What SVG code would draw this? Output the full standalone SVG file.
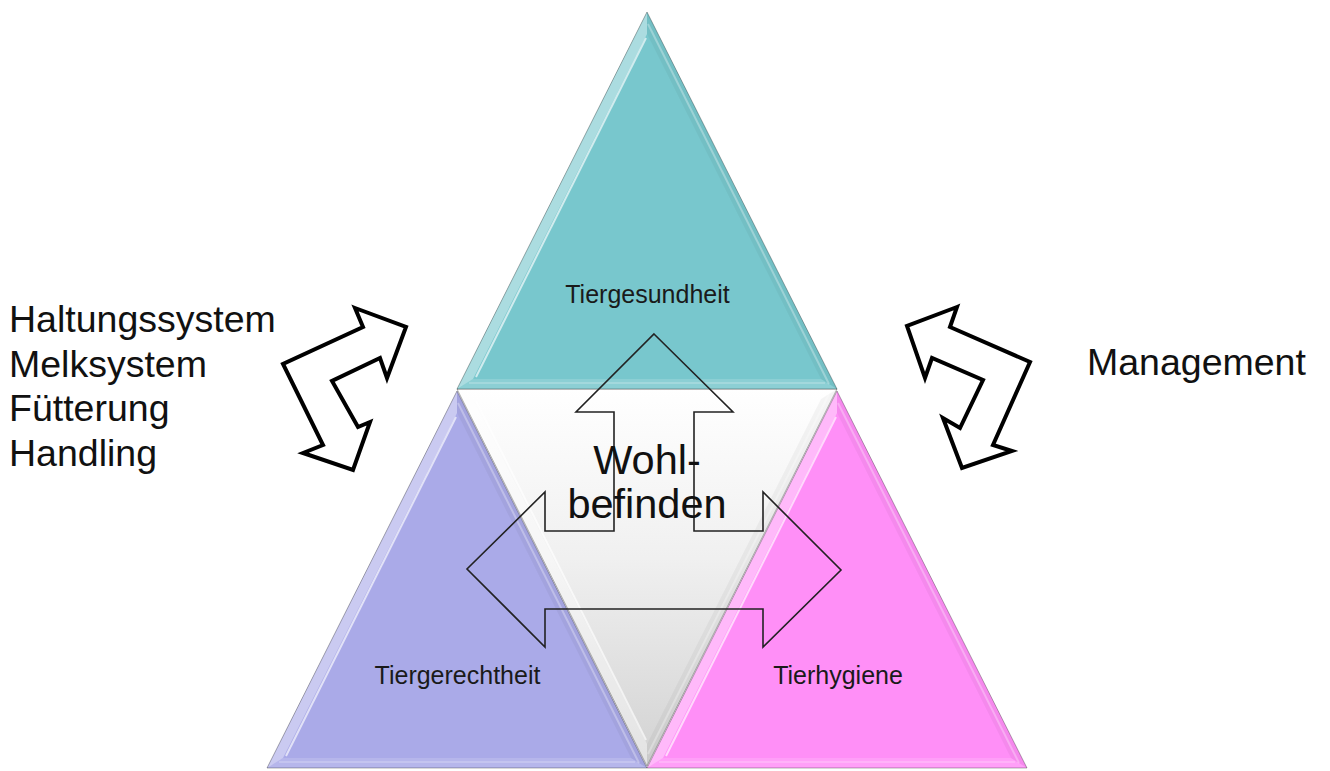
<svg xmlns="http://www.w3.org/2000/svg" xmlns:xlink="http://www.w3.org/1999/xlink" width="1330" height="771" viewBox="0 0 1330 771">
<style>
.big{font-family:"Liberation Sans",Arial,sans-serif;font-size:37.5px;fill:#111}
.lbl{font-family:"Liberation Sans",Arial,sans-serif;font-size:25px;text-anchor:middle;fill:#1a1a1a}
.center{font-family:"Liberation Sans",Arial,sans-serif;font-size:41.5px;text-anchor:middle;fill:#111}
.curved{fill:#fff;stroke:#000;stroke-width:4;stroke-linejoin:miter}
.tri3{fill:none;stroke:#222;stroke-width:1.6;stroke-linejoin:miter}
.edge{fill:none;stroke:#000;stroke-opacity:0.3;stroke-width:1}
</style>
<defs>
<polygon id="tri" points="0,0 -190,377 190,377"/>
<g id="bevel">
<polygon points="0,0 -190,377 -174,367 0,22" fill="#fff" fill-opacity="0.38"/>
<polygon points="0,0 190,377 174,367 0,22" fill="#000" fill-opacity="0.04"/>
<polygon points="-190,377 190,377 174,367 -174,367" fill="#fff" fill-opacity="0.15"/>
<path d="M -1,26 L -171,365" stroke="#fff" stroke-opacity="0.65" stroke-width="2" fill="none"/>
<path d="M 1,12 L 182,372" stroke="#fff" stroke-opacity="0.3" stroke-width="2" fill="none"/>
<path d="M -178,371 L 178,371" stroke="#fff" stroke-opacity="0.2" stroke-width="2" fill="none"/>
<use xlink:href="#tri" class="edge"/>
</g>
<linearGradient id="midGrad" x1="0" y1="0" x2="0" y2="1">
<stop offset="0" stop-color="#d2d2d2"/>
<stop offset="0.55" stop-color="#f0f0f0"/>
<stop offset="1" stop-color="#ffffff"/>
</linearGradient>
</defs>

<g id="node-wohlbefinden">
<use xlink:href="#tri" transform="translate(647,766) scale(1,-1)" fill="url(#midGrad)"/>
<use xlink:href="#bevel" transform="translate(647,766) scale(1,-1)"/>
</g>

<g id="node-tiergesundheit">
<use xlink:href="#tri" transform="translate(647,12)" fill="#78c7cd"/>
<use xlink:href="#bevel" transform="translate(647,12)"/>
<text class="lbl" x="647.5" y="303">Tiergesundheit</text>
</g>

<g id="node-tiergerechtheit">
<use xlink:href="#tri" transform="translate(457,391)" fill="#aaaae8"/>
<use xlink:href="#bevel" transform="translate(457,391)"/>
<text class="lbl" x="457.5" y="684" fill="#1a1a3a">Tiergerechtheit</text>
</g>

<g id="node-tierhygiene">
<use xlink:href="#tri" transform="translate(837,391)" fill="#ff8ff7"/>
<use xlink:href="#bevel" transform="translate(837,391)"/>
<text class="lbl" x="838" y="684">Tierhygiene</text>
</g>

<g id="connectors">
<polygon class="tri3" points="654,334 733,412 694,412 694,531 763,531 763,492 841,570 763,647 763,609 545,609 545,647 467,569 545,492 545,531 614,531 614,412 576,412"/>
<polygon id="arrow-left" class="curved" points="355,308 406,327 387,378 380,358 332,381 358,427 370,422 353,470 303,453 323,445 283,364 363,327"/>
<polygon id="arrow-right" class="curved" points="957,307 907,326 925,378 932,358 983,380 960,428 943,418 962,468 1012,451 993,445 1030,362 950,327"/>
</g>

<g id="node-center-label">
<text class="center" x="647" y="474">Wohl-</text>
<text class="center" x="647" y="518">befinden</text>
</g>

<g id="node-factors-left">
<text class="big" x="9" y="332">Haltungssystem</text>
<text class="big" x="9" y="377">Melksystem</text>
<text class="big" x="9" y="421">Fütterung</text>
<text class="big" x="9" y="466">Handling</text>
</g>

<g id="node-management">
<text class="big" x="1087" y="375">Management</text>
</g>
</svg>
